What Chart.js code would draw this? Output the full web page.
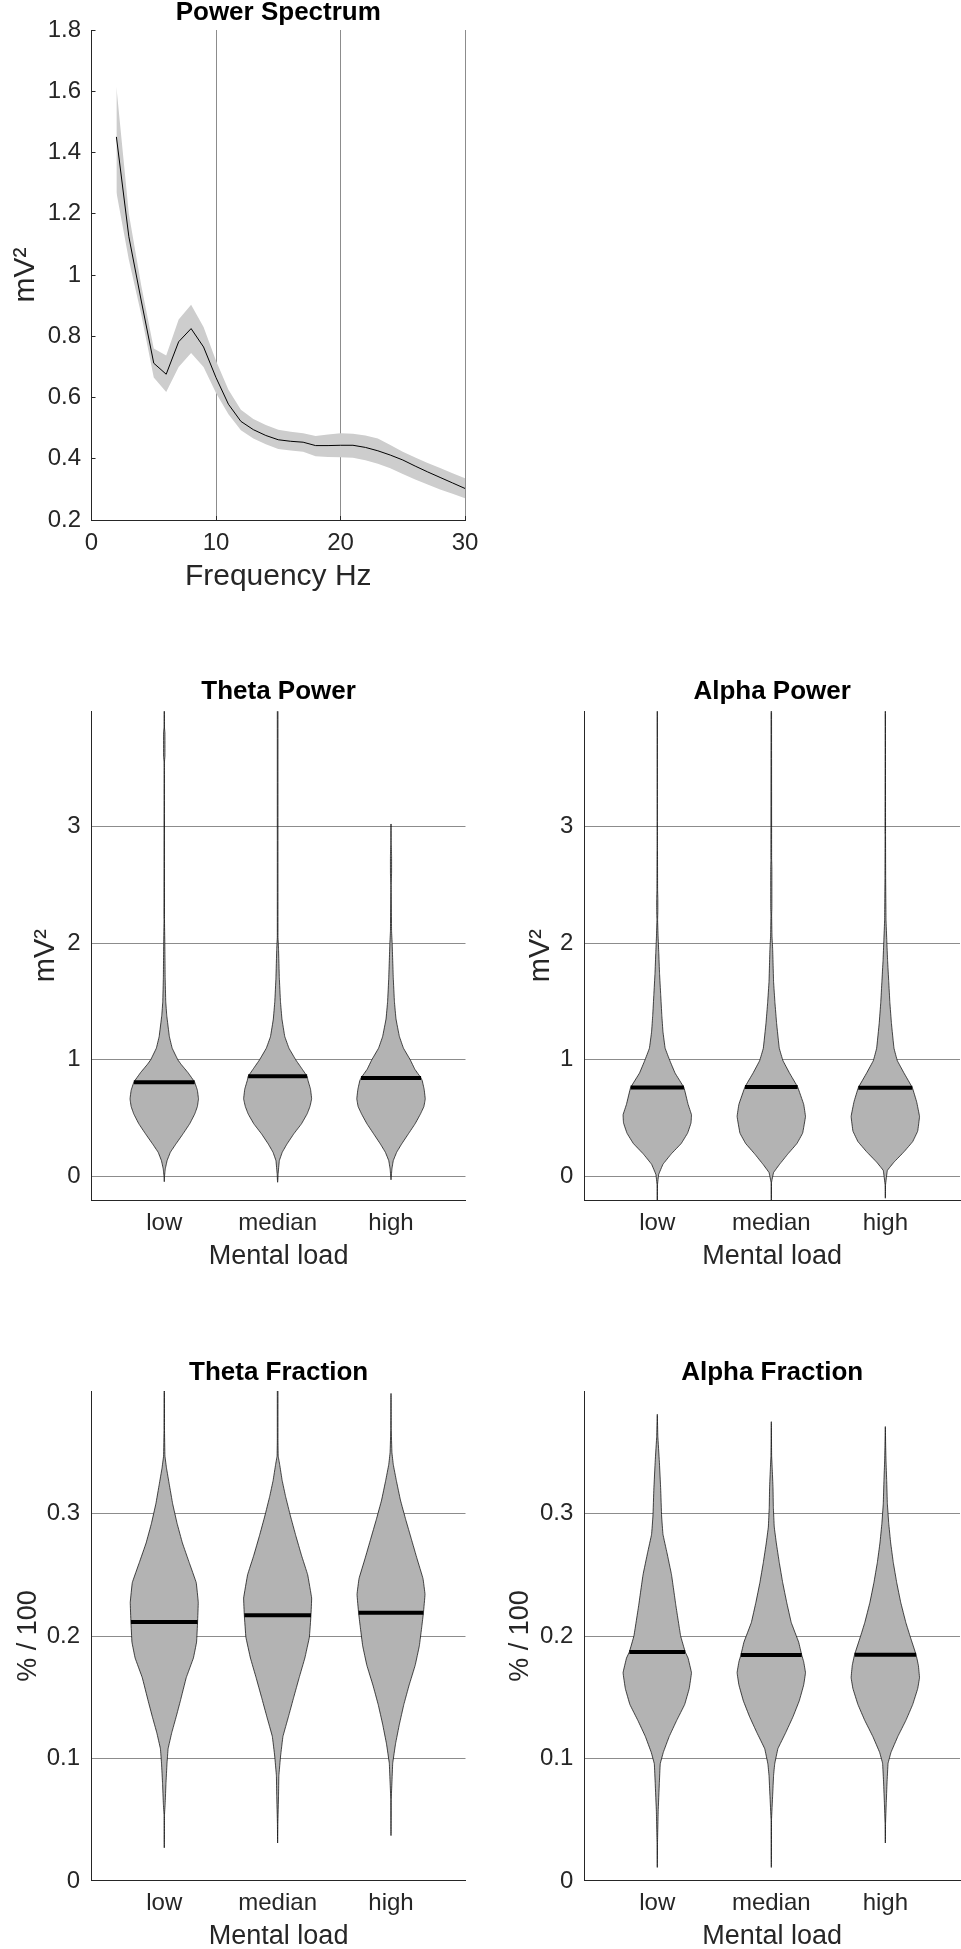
<!DOCTYPE html>
<html>
<head>
<meta charset="utf-8">
<script src="https://cdn.jsdelivr.net/npm/chart.js@4.4.1/dist/chart.umd.min.js"></script>
<style>
  html, body { margin: 0; padding: 0; background: #fff; }
  body { width: 961px; height: 1949px; overflow: hidden; position: relative; }
  canvas { position: absolute; }
</style>
</head>
<body>
<canvas id="ps" width="480" height="600" style="left:0px;top:0px"></canvas>
<canvas id="tp" width="480" height="660" style="left:0px;top:640px"></canvas>
<canvas id="ap" width="481" height="660" style="left:480px;top:640px"></canvas>
<canvas id="tf" width="480" height="660" style="left:0px;top:1320px"></canvas>
<canvas id="af" width="481" height="660" style="left:480px;top:1320px"></canvas>
<script>
// ---------------- DATA ----------------
// Power spectrum (mean and shaded band), frequencies in Hz
const freqHz = [2,3,4,5,6,7,8,9,10,11,12,13,14,15,16,17,18,19,20,21,22,23,24,25,26,27,28,29,30];
const powerMean  = [1.451,1.125,0.915,0.712,0.676,0.782,0.825,0.765,0.665,0.578,0.522,0.495,0.476,0.462,0.457,0.454,0.443,0.443,0.444,0.444,0.437,0.426,0.412,0.396,0.376,0.357,0.339,0.321,0.303];
const powerUpper = [1.615,1.200,0.965,0.760,0.737,0.855,0.903,0.830,0.720,0.625,0.560,0.530,0.510,0.495,0.488,0.483,0.474,0.479,0.483,0.482,0.476,0.466,0.445,0.423,0.404,0.386,0.370,0.353,0.336];
const powerLower = [1.270,1.050,0.870,0.665,0.618,0.700,0.745,0.700,0.615,0.545,0.493,0.466,0.447,0.432,0.427,0.423,0.408,0.406,0.405,0.403,0.395,0.384,0.369,0.350,0.332,0.316,0.300,0.286,0.271];
const psXTicks = [0, 10, 20, 30];
const psYTicks = [0.2, 0.4, 0.6, 0.8, 1, 1.2, 1.4, 1.6, 1.8];

// Violin panels
const loadCategories = ['low', 'median', 'high'];
const powerTicks = [0, 1, 2, 3];
const fractionTicks = [0, 0.1, 0.2, 0.3];

// violin outlines: [value, half-width (in category units)]
const thetaPowerLow = [[-0.043,0.0005],[-0.03,0.0015],[0.0,0.002],[0.066,0.009],[0.137,0.025],[0.209,0.054],[0.28,0.103],[0.366,0.165],[0.452,0.224],[0.537,0.269],[0.6,0.292],[0.666,0.302],[0.74,0.292],[0.81,0.268],[0.89,0.21],[0.96,0.15],[1.0,0.12],[1.1,0.07],[1.2,0.045],[1.38,0.022],[1.5,0.013],[1.7,0.008],[2.0,0.005],[2.2,0.002],[3.55,0.0015],[3.6,0.006],[3.8,0.006],[3.85,0.0015],[4.3,0.0015]];
const thetaPowerMedian = [[-0.048,0.0005],[-0.03,0.002],[0.02,0.004],[0.137,0.015],[0.209,0.041],[0.28,0.083],[0.366,0.142],[0.452,0.21],[0.537,0.26],[0.6,0.285],[0.666,0.30],[0.75,0.29],[0.823,0.268],[0.859,0.26],[0.93,0.21],[1.0,0.16],[1.1,0.10],[1.2,0.063],[1.35,0.038],[1.5,0.025],[1.7,0.015],[1.95,0.008],[2.05,0.003],[4.3,0.003]];
const thetaPowerHigh = [[-0.027,0.0005],[-0.01,0.0015],[0.066,0.008],[0.137,0.02],[0.209,0.05],[0.28,0.094],[0.366,0.153],[0.452,0.212],[0.537,0.26],[0.6,0.29],[0.666,0.302],[0.75,0.292],[0.823,0.275],[0.845,0.265],[0.92,0.21],[1.0,0.17],[1.1,0.11],[1.2,0.074],[1.35,0.044],[1.5,0.03],[1.7,0.02],[2.0,0.01],[2.1,0.005],[2.5,0.0015],[2.6,0.005],[2.75,0.005],[2.85,0.0015],[3.02,0.0005]];

const alphaPowerLow = [[-0.25,0.001],[-0.07,0.002],[0.018,0.012],[0.106,0.05],[0.195,0.123],[0.284,0.21],[0.373,0.266],[0.46,0.296],[0.53,0.30],[0.62,0.27],[0.763,0.234],[0.887,0.156],[0.994,0.11],[1.1,0.069],[1.24,0.05],[1.38,0.04],[1.56,0.03],[1.74,0.02],[1.92,0.013],[2.06,0.007],[2.2,0.003],[2.27,0.005],[2.38,0.005],[2.45,0.003],[2.8,0.002],[2.84,0.001],[4.3,0.001]];
const alphaPowerMedian = [[-0.25,0.001],[-0.05,0.002],[0.035,0.02],[0.106,0.073],[0.195,0.146],[0.284,0.225],[0.373,0.275],[0.515,0.30],[0.62,0.284],[0.768,0.231],[0.887,0.16],[0.994,0.102],[1.1,0.07],[1.31,0.047],[1.49,0.032],[1.67,0.02],[1.95,0.012],[2.06,0.006],[2.24,0.003],[2.3,0.005],[2.65,0.005],[2.72,0.003],[4.3,0.002]];
const alphaPowerHigh = [[-0.185,0.0005],[-0.07,0.002],[0.053,0.018],[0.124,0.076],[0.213,0.164],[0.30,0.24],[0.39,0.284],[0.515,0.30],[0.64,0.275],[0.762,0.237],[0.887,0.164],[0.994,0.105],[1.1,0.076],[1.31,0.054],[1.49,0.04],[1.67,0.03],[1.85,0.02],[2.02,0.013],[2.2,0.006],[2.56,0.003],[2.93,0.002],[4.3,0.001]];

const thetaFractionLow = [[0.027,0.0005],[0.054,0.002],[0.063,0.008],[0.0795,0.015],[0.0956,0.024],[0.108,0.034],[0.121,0.066],[0.134,0.105],[0.147,0.142],[0.166,0.194],[0.182,0.257],[0.195,0.285],[0.2115,0.294],[0.2275,0.30],[0.2436,0.282],[0.26,0.22],[0.276,0.16],[0.292,0.113],[0.308,0.074],[0.324,0.044],[0.337,0.02],[0.347,0.006],[0.369,0.002],[0.42,0.0015]];
const thetaFractionMedian = [[0.031,0.0005],[0.047,0.002],[0.07,0.008],[0.086,0.011],[0.102,0.026],[0.118,0.047],[0.134,0.095],[0.15,0.142],[0.166,0.19],[0.182,0.24],[0.199,0.28],[0.217,0.294],[0.231,0.30],[0.25,0.265],[0.266,0.21],[0.282,0.16],[0.298,0.113],[0.314,0.07],[0.327,0.04],[0.34,0.018],[0.347,0.005],[0.36,0.003],[0.42,0.003]];
const thetaFractionHigh = [[0.037,0.0005],[0.067,0.002],[0.08,0.008],[0.096,0.015],[0.112,0.04],[0.128,0.074],[0.144,0.113],[0.16,0.16],[0.176,0.213],[0.192,0.25],[0.208,0.272],[0.219,0.286],[0.234,0.30],[0.247,0.282],[0.263,0.23],[0.279,0.18],[0.295,0.13],[0.311,0.083],[0.327,0.047],[0.34,0.02],[0.35,0.008],[0.369,0.002],[0.398,0.001]];

const alphaFractionLow = [[0.011,0.0005],[0.031,0.002],[0.057,0.008],[0.0795,0.018],[0.0956,0.026],[0.105,0.053],[0.118,0.105],[0.131,0.17],[0.144,0.24],[0.157,0.28],[0.17,0.30],[0.182,0.27],[0.187,0.245],[0.2,0.205],[0.225,0.163],[0.25,0.125],[0.268,0.085],[0.283,0.05],[0.298,0.038],[0.32,0.03],[0.343,0.018],[0.363,0.005],[0.381,0.0005]];
const alphaFractionMedian = [[0.011,0.0005],[0.05,0.002],[0.07,0.012],[0.086,0.02],[0.0956,0.03],[0.108,0.058],[0.121,0.126],[0.134,0.19],[0.147,0.245],[0.16,0.284],[0.17,0.30],[0.179,0.284],[0.1844,0.267],[0.195,0.24],[0.211,0.175],[0.2275,0.135],[0.2436,0.1],[0.26,0.07],[0.276,0.044],[0.289,0.026],[0.305,0.018],[0.321,0.015],[0.337,0.008],[0.347,0.003],[0.375,0.0005]];
const alphaFractionHigh = [[0.031,0.0005],[0.047,0.002],[0.063,0.008],[0.08,0.015],[0.096,0.024],[0.105,0.05],[0.118,0.11],[0.131,0.18],[0.144,0.24],[0.157,0.284],[0.166,0.30],[0.176,0.29],[0.1847,0.27],[0.199,0.22],[0.211,0.18],[0.2275,0.135],[0.2436,0.1],[0.26,0.07],[0.276,0.047],[0.292,0.03],[0.308,0.018],[0.327,0.012],[0.343,0.006],[0.356,0.003],[0.371,0.0005]];

const thetaPowerMedians = [0.809, 0.859, 0.845];
const alphaPowerMedians = [0.763, 0.768, 0.762];
const thetaFractionMedians = [0.2115, 0.217, 0.219];
const alphaFractionMedians = [0.187, 0.1844, 0.1847];

// ---------------- STYLE ----------------
const FONT = '"Liberation Sans", Arial, Helvetica, sans-serif';
Chart.defaults.font.family = FONT;
Chart.defaults.color = '#262626';
const GRID = '#8c8c8c';
const AXIS = '#262626';
const VIOLIN = '#b3b3b3';
const BAND = '#cdcdcd';
const TICK_FONT = 24;

function fmt(v) { return String(+Number(v).toFixed(3)); }
function fixedTicks(list) { return s => { s.ticks = list.map(v => ({ value: v })); }; }
function gridColor(skip) {
  return ctx => (ctx.tick && Math.abs(ctx.tick.value - skip) < 1e-9) ? 'rgba(0,0,0,0)' : GRID;
}
function fitX(h) { return s => { s.height = h; s.paddingLeft = 0; s.paddingRight = 0; }; }
function fitY(w) { return s => { s.width = w; s.paddingTop = 0; s.paddingBottom = 0; }; }
function interpHalf(outline, v) {
  for (let i = 1; i < outline.length; i++) {
    const [v0, h0] = outline[i - 1], [v1, h1] = outline[i];
    if (v >= v0 && v <= v1) return h0 + (h1 - h0) * (v - v0) / (v1 - v0);
  }
  return 0;
}
function outlinePoints(outline, center) {
  const left = outline.map(([v, h]) => ({ x: center - h, y: v }));
  const right = outline.slice().reverse().map(([v, h]) => ({ x: center + h, y: v }));
  return left.concat(right);
}

const basePlugins = (title, g) => ({
  legend: { display: false },
  tooltip: { enabled: false },
  title: {
    display: true, text: title, fullSize: false, color: '#000',
    font: { size: 26, weight: 'bold', lineHeight: 1 },
    padding: { top: g.titleTop, bottom: g.titleBottom }
  }
});

// ---------------- POWER SPECTRUM ----------------
(function () {
  const g = { padRight: 15, yWidth: 91.5, xHeight: 80, titleTop: 0, titleBottom: 4 };
  const pts = arr => freqHz.map((f, i) => ({ x: f, y: arr[i] }));
  new Chart(document.getElementById('ps'), {
    type: 'line',
    data: {
      datasets: [
        { data: pts(powerMean), borderColor: '#000', borderWidth: 1, pointRadius: 0, fill: false, order: 0, tension: 0 },
        { data: pts(powerUpper), borderWidth: 0, borderColor: 'rgba(0,0,0,0)', backgroundColor: BAND, fill: '+1', pointRadius: 0, order: 1, tension: 0 },
        { data: pts(powerLower), borderWidth: 0, borderColor: 'rgba(0,0,0,0)', fill: false, pointRadius: 0, order: 1, tension: 0 }
      ]
    },
    options: {
      responsive: false, animation: false, events: [],
      layout: { autoPadding: false, padding: { left: 0, right: g.padRight, top: 0, bottom: 0 } },
      plugins: basePlugins('Power Spectrum', g),
      scales: {
        x: {
          type: 'linear', min: 0, max: 30,
          afterBuildTicks: fixedTicks(psXTicks),
          afterFit: fitX(g.xHeight),
          grid: { color: gridColor(0), drawTicks: true, tickLength: -4, tickColor: AXIS, tickWidth: 1, lineWidth: 1 },
          border: { color: AXIS, width: 1 },
          ticks: { callback: fmt, font: { size: TICK_FONT }, padding: 13.1, maxRotation: 0, autoSkip: false },
          title: { display: true, text: 'Frequency Hz', font: { size: 30 }, padding: { top: 0, bottom: 5 } }
        },
        y: {
          type: 'linear', min: 0.2, max: 1.8,
          afterBuildTicks: fixedTicks(psYTicks),
          afterFit: fitY(g.yWidth),
          grid: { display: true, drawOnChartArea: false, drawTicks: true, tickLength: -4, tickColor: AXIS, tickWidth: 1 },
          border: { color: AXIS, width: 1 },
          ticks: { callback: fmt, font: { size: TICK_FONT }, padding: 14.5, autoSkip: false },
          title: { display: true, text: 'mV²', font: { size: 30 }, padding: { top: 8, bottom: 0 } }
        }
      }
    }
  });
})();

// ---------------- VIOLIN PANELS ----------------
function violinChart(id, g, title, yTitle, outlines, medians, yMin, yMax, yTicks) {
  const catPos = loadCategories.map((_, i) => i + 1);
  const datasets = [];
  outlines.forEach((o, i) => {
    datasets.push({ data: outlinePoints(o, catPos[i]), fill: 'shape', backgroundColor: VIOLIN, borderColor: '#000', borderWidth: 0.7, pointRadius: 0, tension: 0.05, order: 2 });
  });
  medians.forEach((m, i) => {
    const h = interpHalf(outlines[i], m);
    datasets.push({ data: [{ x: catPos[i] - h, y: m }, { x: catPos[i] + h, y: m }], borderColor: '#000', borderWidth: 4, borderCapStyle: 'butt', pointRadius: 0, fill: false, order: 1 });
  });
  new Chart(document.getElementById(id), {
    type: 'line',
    data: { datasets },
    options: {
      responsive: false, animation: false, events: [],
      layout: { autoPadding: false, padding: { left: 0, right: g.padRight, top: 0, bottom: 0 } },
      plugins: basePlugins(title, g),
      scales: {
        x: {
          type: 'linear', min: g.xMin, max: g.xMax,
          afterBuildTicks: fixedTicks(catPos),
          afterFit: fitX(g.xHeight),
          grid: { display: false, drawTicks: false },
          border: { color: AXIS, width: 1 },
          ticks: { callback: v => loadCategories[Math.round(v) - 1], font: { size: TICK_FONT }, padding: g.xTickPad, maxRotation: 0, autoSkip: false },
          title: { display: true, text: 'Mental load', font: { size: 27 }, padding: { top: 0, bottom: g.xTitleBottom } }
        },
        y: {
          type: 'linear', min: yMin, max: yMax,
          afterBuildTicks: fixedTicks(yTicks),
          afterFit: fitY(g.yWidth),
          grid: { color: gridColor(yMin), drawTicks: false, lineWidth: 1 },
          border: { color: AXIS, width: 1 },
          ticks: { callback: fmt, font: { size: TICK_FONT }, padding: g.yTickPad, autoSkip: false },
          title: { display: true, text: yTitle, font: { size: g.yTitleSize }, padding: { top: g.yTitleTop, bottom: 0 } }
        }
      }
    }
  });
}

violinChart('tp',
  { padRight: 14.5, yWidth: 91.7, xHeight: 100, titleTop: 38.4, titleBottom: 6.9, xTickPad: 9.1, xTitleBottom: 27.2, yTickPad: 11.2, yTitleSize: 29, yTitleTop: 28.6, xMin: 0.36, xMax: 3.657 },
  'Theta Power', 'mV²', [thetaPowerLow, thetaPowerMedian, thetaPowerHigh], thetaPowerMedians, -0.2, 3.985, powerTicks);

violinChart('ap',
  { padRight: 1, yWidth: 104.3, xHeight: 100, titleTop: 38.4, titleBottom: 6.9, xTickPad: 9.1, xTitleBottom: 27.2, yTickPad: 11, yTitleSize: 29, yTitleTop: 43.1, xMin: 0.36, xMax: 3.655 },
  'Alpha Power', 'mV²', [alphaPowerLow, alphaPowerMedian, alphaPowerHigh], alphaPowerMedians, -0.2, 3.985, powerTicks);

violinChart('tf',
  { padRight: 14.5, yWidth: 91.7, xHeight: 99.1, titleTop: 39.6, titleBottom: 5.5, xTickPad: 8.4, xTitleBottom: 26.8, yTickPad: 11.7, yTitleSize: 27, yTitleTop: 12.3, xMin: 0.36, xMax: 3.657 },
  'Theta Fraction', '% / 100', [thetaFractionLow, thetaFractionMedian, thetaFractionHigh], thetaFractionMedians, 0, 0.4, fractionTicks);

violinChart('af',
  { padRight: 1, yWidth: 104.3, xHeight: 99.1, titleTop: 39.6, titleBottom: 5.5, xTickPad: 8.4, xTitleBottom: 26.8, yTickPad: 11, yTitleSize: 27, yTitleTop: 24.3, xMin: 0.36, xMax: 3.655 },
  'Alpha Fraction', '% / 100', [alphaFractionLow, alphaFractionMedian, alphaFractionHigh], alphaFractionMedians, 0, 0.4, fractionTicks);
</script>
</body>
</html>
